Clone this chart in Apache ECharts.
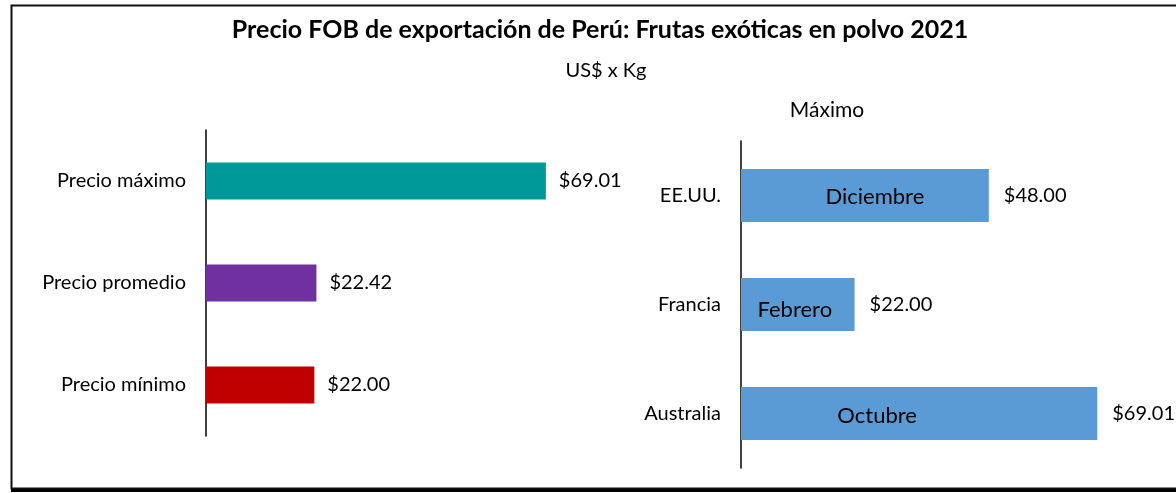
<!DOCTYPE html>
<html>
<head>
<meta charset="utf-8">
<script src="https://cdn.jsdelivr.net/npm/echarts@6/dist/echarts.min.js"></script>
<style>
  html, body { margin: 0; padding: 0; background: #fff; }
  #chart { width: 1176px; height: 493px; }
</style>
</head>
<body>
<div id="chart"></div>
<script>
// resumen de precios
var priceCats = ['Precio máximo', 'Precio promedio', 'Precio mínimo']
var priceVals = [69.01, 22.42, 22.00]
var priceColors = ['#009999', '#7030A0', '#C00000']

// máximo por mercado
var countryCats = ['EE.UU.', 'Francia', 'Australia']
var countryVals = [48.00, 22.00, 69.01]
var countryMonths = ['Diciembre', 'Febrero', 'Octubre']

var FONT = 'Lato'
var chart = echarts.init(document.getElementById('chart'))

// desplazamiento de la etiqueta del mes dentro de cada barra
var monthShift = [[10, 1], [-3, 5], [-42, 2]]

function money(p) {
  return '$' + p.value.toFixed(2)
}

chart.setOption({
  animation: false,
  textStyle: { fontFamily: FONT },
  title: [
    {
      text: 'Precio FOB de exportación de Perú: Frutas exóticas en polvo 2021',
      left: 595, top: 12, textAlign: 'center',
      textStyle: { fontFamily: FONT, fontSize: 25, fontWeight: 'bold', color: '#000' }
    },
    {
      text: 'US$ x Kg',
      left: 601, top: 56, textAlign: 'center',
      textStyle: { fontFamily: FONT, fontSize: 20, fontWeight: 'normal', color: '#000' }
    },
    {
      text: 'Máximo',
      left: 822, top: 95, textAlign: 'center',
      textStyle: { fontFamily: FONT, fontSize: 21, fontWeight: 'normal', color: '#000' }
    }
  ],
  graphic: [
    {
      type: 'rect',
      shape: { x: 11.5, y: 5.5, width: 1200, height: 483 },
      style: { fill: 'none', stroke: '#111', lineWidth: 2 }
    },
    {
      type: 'line',
      shape: { x1: 11, y1: 490.5, x2: 1176, y2: 490.5 },
      style: { stroke: '#000', lineWidth: 3 }
    }
  ],
  grid: [
    { left: 206, top: 130, width: 394, height: 306 },
    { left: 741, top: 141, width: 413, height: 327 }
  ],
  xAxis: [
    { type: 'value', gridIndex: 0, min: 0, max: 80, show: false },
    { type: 'value', gridIndex: 1, min: 0, max: 80, show: false }
  ],
  yAxis: [
    {
      type: 'category', gridIndex: 0, inverse: true, data: priceCats,
      axisLine: { lineStyle: { color: '#000', width: 1.5 } },
      axisTick: { show: false },
      axisLabel: { color: '#000', fontSize: 20, margin: 20, fontFamily: FONT }
    },
    {
      type: 'category', gridIndex: 1, inverse: true, data: countryCats,
      axisLine: { lineStyle: { color: '#000', width: 1.5 } },
      axisTick: { show: false },
      axisLabel: { color: '#000', fontSize: 20, margin: 20, fontFamily: FONT }
    }
  ],
  series: [
    {
      type: 'bar', xAxisIndex: 0, yAxisIndex: 0, barWidth: 37,
      data: priceVals.map(function (v, i) {
        return { value: v, itemStyle: { color: priceColors[i] } }
      }),
      label: {
        show: true, position: 'right', distance: 13, formatter: money,
        color: '#000', fontSize: 20, fontFamily: FONT
      }
    },
    {
      type: 'bar', xAxisIndex: 1, yAxisIndex: 1, barWidth: 53,
      itemStyle: { color: '#5B9BD5' },
      data: countryVals,
      label: {
        show: true, position: 'right', distance: 15, formatter: money,
        color: '#000', fontSize: 20, fontFamily: FONT
      }
    },
    {
      // nombres de los meses encima de las barras azules
      type: 'bar', xAxisIndex: 1, yAxisIndex: 1, barWidth: 53, barGap: '-100%',
      itemStyle: { color: 'transparent' },
      silent: true,
      data: countryVals.map(function (v, i) {
        return {
          value: v,
          label: { offset: monthShift[i], formatter: countryMonths[i] }
        }
      }),
      label: {
        show: true, position: 'inside',
        color: '#000', fontSize: 22, fontFamily: FONT
      },
      z: 3
    }
  ]
})
</script>
</body>
</html>
